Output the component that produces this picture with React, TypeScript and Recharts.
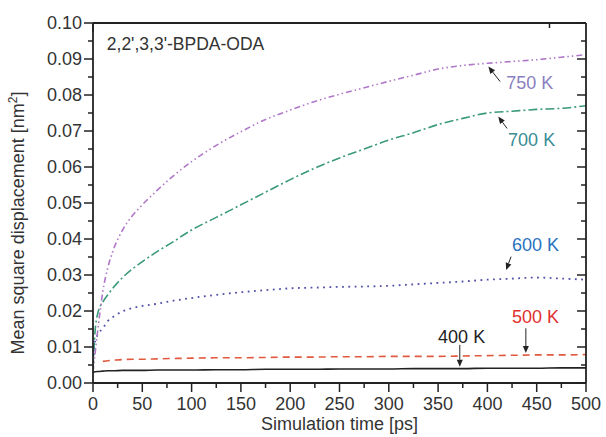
import React from 'react';
import { LineChart, Line, XAxis, YAxis, ReferenceLine, ReferenceDot } from 'recharts';

const times = [0, 2, 5, 10, 15, 20, 30, 40, 50, 65, 80, 100, 125, 150, 175, 200, 225, 250, 275, 300, 325, 350, 375, 400, 425, 450, 475, 500];
const msd750 = [0.003, 0.008, 0.015, 0.0255, 0.032, 0.0365, 0.0425, 0.0465, 0.0495, 0.0535, 0.0572, 0.0615, 0.066, 0.0698, 0.0732, 0.0758, 0.0782, 0.0802, 0.082, 0.0838, 0.0855, 0.0872, 0.0882, 0.0888, 0.0893, 0.0898, 0.0905, 0.0912];
const msd700 = [0.004, 0.014, 0.0195, 0.0225, 0.0245, 0.0263, 0.0293, 0.0317, 0.0337, 0.0365, 0.039, 0.0425, 0.046, 0.0495, 0.053, 0.0565, 0.0597, 0.0625, 0.065, 0.0675, 0.0695, 0.0718, 0.0735, 0.075, 0.0755, 0.076, 0.0763, 0.077];
const msd600 = [0.006, 0.0115, 0.0135, 0.0152, 0.0172, 0.0183, 0.0199, 0.0208, 0.0214, 0.022, 0.0228, 0.0236, 0.0245, 0.0252, 0.0258, 0.0263, 0.0265, 0.0267, 0.0268, 0.027, 0.0274, 0.0278, 0.0282, 0.0287, 0.029, 0.0293, 0.029, 0.0287];
const msd500 = [null, null, null, 0.006, 0.0062, 0.0063, 0.0065, 0.0066, 0.0066, 0.0067, 0.0068, 0.0069, 0.007, 0.007, 0.0071, 0.0072, 0.0072, 0.0073, 0.0073, 0.0074, 0.0074, 0.0074, 0.0075, 0.0076, 0.0077, 0.0078, 0.0078, 0.0079];
const msd400 = [0.0029, 0.0031, 0.0032, 0.0033, 0.0034, 0.0034, 0.0035, 0.0035, 0.0035, 0.0036, 0.0036, 0.0036, 0.0037, 0.0037, 0.0038, 0.0038, 0.0038, 0.0039, 0.0039, 0.0039, 0.004, 0.004, 0.004, 0.0041, 0.0041, 0.0041, 0.0042, 0.0042];

const xTicks = [0, 25, 50, 75, 100, 125, 150, 175, 200, 225, 250, 275, 300, 325, 350, 375, 400, 425, 450, 475, 500];
const yTicks = [0, 0.005, 0.01, 0.015, 0.02, 0.025, 0.03, 0.035, 0.04, 0.045, 0.05, 0.055, 0.06, 0.065, 0.07, 0.075, 0.08, 0.085, 0.09, 0.095, 0.1];

// labels placed in data coordinates
const curveLabels = [
  { text: '750 K', t: 419, v: 0.0816, color: '#8a80c0' },
  { text: '700 K', t: 421, v: 0.0658, color: '#3a8c95' },
  { text: '600 K', t: 425, v: 0.0368, color: '#2a72c0' },
  { text: '500 K', t: 425, v: 0.0166, color: '#e03030' },
  { text: '400 K', t: 350, v: 0.0112, color: '#222222' },
];
// arrows: tail -> head
const arrows = [
  { t1: 413, v1: 0.0837, t2: 401, v2: 0.0879 },
  { t1: 420, v1: 0.0707, t2: 411, v2: 0.074 },
  { t1: 424, v1: 0.0351, t2: 419, v2: 0.0314 },
  { t1: 439, v1: 0.0152, t2: 439, v2: 0.0083 },
  { t1: 372, v1: 0.0106, t2: 372, v2: 0.0045 },
];

const data = times.map((t, i) => ({
  t,
  k750: msd750[i],
  k700: msd700[i],
  k600: msd600[i],
  k500: msd500[i],
  k400: msd400[i],
}));

const INK = '#222';
const FONT = 'Liberation Sans, Arial, sans-serif';
const isMajorX = (v: number) => Math.round(v) % 50 === 0;
const isMajorY = (v: number) => Math.round(v * 1000) % 10 === 0;

function BottomTick(props: any) {
  const { x, y, payload } = props;
  const major = isMajorX(payload.value);
  return (
    <g>
      <line x1={x} y1={y} x2={x} y2={y + (major ? 9 : 5)} stroke={INK} strokeWidth={1.5} />
      {major && (
        <text x={x} y={y + 27} textAnchor="middle" fontSize={18} fill="#333" fontFamily={FONT}>
          {payload.value}
        </text>
      )}
    </g>
  );
}

function TopTick(props: any) {
  const { x, y, payload } = props;
  const major = isMajorX(payload.value);
  return <line x1={x} y1={y} x2={x} y2={y + (major ? 9 : 5)} stroke={INK} strokeWidth={1.5} />;
}

function LeftTick(props: any) {
  const { x, y, payload } = props;
  const major = isMajorY(payload.value);
  return (
    <g>
      <line x1={x} y1={y} x2={x - (major ? 9 : 5)} y2={y} stroke={INK} strokeWidth={1.5} />
      {major && (
        <text x={x - 11} y={y + 6} textAnchor="end" fontSize={18} fill="#333" fontFamily={FONT}>
          {payload.value.toFixed(2)}
        </text>
      )}
    </g>
  );
}

function RightTick(props: any) {
  const { x, y, payload } = props;
  const major = isMajorY(payload.value);
  return <line x1={x} y1={y} x2={x - (major ? 9 : 5)} y2={y} stroke={INK} strokeWidth={1.5} />;
}

function YTitle(props: any) {
  const { viewBox } = props;
  const cx = viewBox.x + 24;
  const cy = viewBox.y + viewBox.height / 2 + 20;
  return (
    <text x={cx} y={cy} transform={`rotate(-90 ${cx} ${cy})`} textAnchor="middle" fontSize={18} fill="#333" fontFamily={FONT}>
      Mean square displacement [nm<tspan dy={-7} fontSize={12}>2</tspan><tspan dy={7}>]</tspan>
    </text>
  );
}

function XTitle(props: any) {
  const { viewBox } = props;
  return (
    <text x={viewBox.x + viewBox.width / 2} y={viewBox.y + 47} textAnchor="middle" fontSize={18} fill="#333" fontFamily={FONT}>
      Simulation time [ps]
    </text>
  );
}

function Arrow(props: any) {
  const { x1, y1, x2, y2 } = props;
  const ang = Math.atan2(y2 - y1, x2 - x1);
  const L = 7;
  const W = 3;
  const bx = x2 - L * Math.cos(ang);
  const by = y2 - L * Math.sin(ang);
  const px = -Math.sin(ang) * W;
  const py = Math.cos(ang) * W;
  return (
    <g>
      <line x1={x1} y1={y1} x2={bx} y2={by} stroke={INK} strokeWidth={1} />
      <polygon points={`${x2},${y2} ${bx + px},${by + py} ${bx - px},${by - py}`} fill={INK} />
    </g>
  );
}

export default function App() {
  return (
    <div style={{ position: 'absolute', left: 0, top: 0, width: 606, height: 437, background: '#fff' }}>
      <LineChart width={606} height={437} data={data} margin={{ top: 0, right: 0, bottom: 0, left: 0 }} style={{ fontFamily: FONT }}>
        <XAxis
          dataKey="t" type="number" domain={[0, 500]} ticks={xTicks} interval={0} allowDataOverflow
          height={54} tickSize={0} tickMargin={0} tickLine={false} tick={<BottomTick />}
          axisLine={{ stroke: INK, strokeWidth: 1.8 }}
          label={<XTitle />}
        />
        <XAxis
          xAxisId="top" orientation="top" type="number" domain={[0, 500]} ticks={xTicks} interval={0} allowDataOverflow
          height={23} tickSize={0} tickMargin={0} tickLine={false} tick={<TopTick />}
          axisLine={{ stroke: INK, strokeWidth: 1.8 }}
        />
        <YAxis
          type="number" domain={[0, 0.1]} ticks={yTicks} interval={0} allowDataOverflow
          width={93} tickSize={0} tickMargin={0} tickLine={false} tick={<LeftTick />}
          axisLine={{ stroke: INK, strokeWidth: 1.8 }}
          label={<YTitle />}
        />
        <YAxis
          yAxisId="right" orientation="right" type="number" domain={[0, 0.1]} ticks={yTicks} interval={0} allowDataOverflow
          width={20} tickSize={0} tickMargin={0} tickLine={false} tick={<RightTick />}
          axisLine={{ stroke: INK, strokeWidth: 1.8 }}
        />
        <Line type="monotone" dataKey="k400" stroke="#222" strokeWidth={1.6} dot={false} isAnimationActive={false} />
        <Line type="monotone" dataKey="k500" stroke="#e05a40" strokeWidth={1.6} strokeDasharray="7 5" dot={false} isAnimationActive={false} />
        <Line type="monotone" dataKey="k600" stroke="#5050a8" strokeWidth={1.8} strokeDasharray="1.8 4.5" dot={false} isAnimationActive={false} />
        <Line type="monotone" dataKey="k700" stroke="#3a9a7a" strokeWidth={1.6} strokeDasharray="9 3 2 3" dot={false} isAnimationActive={false} />
        <Line type="monotone" dataKey="k750" stroke="#b078c8" strokeWidth={1.6} strokeDasharray="6 3 1.5 3 1.5 3" dot={false} isAnimationActive={false} />
        {arrows.map((a, i) => (
          <ReferenceLine key={`a${i}`} segment={[{ x: a.t1, y: a.v1 }, { x: a.t2, y: a.v2 }]} shape={(p: any) => <Arrow {...p} />} />
        ))}
        {curveLabels.map((l) => (
          <ReferenceDot
            key={l.text} x={l.t} y={l.v} r={0}
            shape={(p: any) => (
              <text x={p.cx} y={p.cy} fontSize={18} fill={l.color} fontFamily={FONT}>{l.text}</text>
            )}
          />
        ))}
        <ReferenceDot
          x={14} y={0.0925} r={0}
          shape={(p: any) => (
            <text x={p.cx} y={p.cy} fontSize={17.5} fill="#333" fontFamily={FONT}>2,2',3,3'-BPDA-ODA</text>
          )}
        />
      </LineChart>
    </div>
  );
}
